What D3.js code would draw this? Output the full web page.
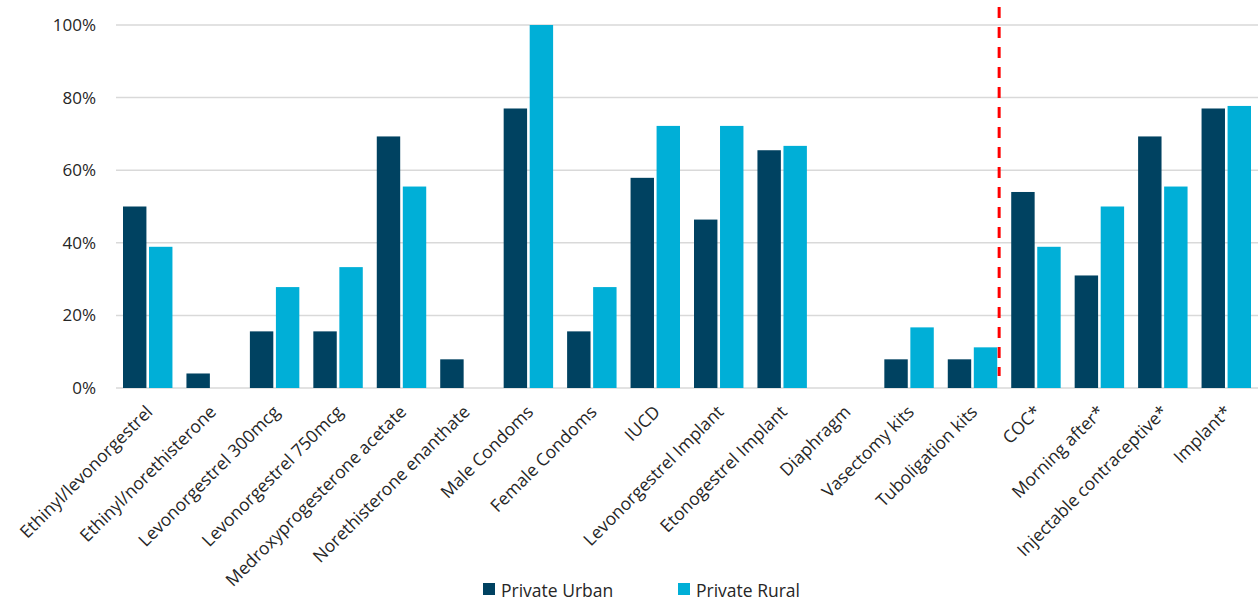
<!DOCTYPE html>
<html>
<head>
<meta charset="utf-8">
<title>Private sector availability</title>
<script src="https://d3js.org/d3.v7.min.js"></script>
<style>
body { margin: 0; background: #fff; }
text { font-family: "Open Sans", sans-serif; fill: #262626; }
</style>
</head>
<body>
<div class="chart"></div>
<script>
// categories and series values (%)
var categories = ["Ethinyl/levonorgestrel", "Ethinyl/norethisterone", "Levonorgestrel 300mcg",
  "Levonorgestrel 750mcg", "Medroxyprogesterone acetate", "Norethisterone enanthate",
  "Male Condoms", "Female Condoms", "IUCD", "Levonorgestrel Implant", "Etonogestrel Implant",
  "Diaphragm", "Vasectomy kits", "Tuboligation kits", "COC*", "Morning after*",
  "Injectable contraceptive*", "Implant*"];
var privateUrban = [50.0, 4.0, 15.6, 15.6, 69.3, 7.9, 77.0, 15.6, 57.9, 46.4, 65.5, 0, 7.9, 7.9, 54.0, 31.0, 69.3, 77.0];
var privateRural = [38.9, 0, 27.8, 33.3, 55.5, 0, 100, 27.8, 72.2, 72.2, 66.7, 0, 16.7, 11.2, 38.9, 50.0, 55.5, 77.7];
var seriesNames = ["Private Urban", "Private Rural"];
var yTicks = [0, 20, 40, 60, 80, 100];
var dividerAfter = 13.92; // in category units, red dashed separator

var colors = ["#004261", "#00afd7"];

var W = 1260, H = 604;
var margin = {left: 116, right: 2, top: 25, bottom: 216};
var width = W - margin.left - margin.right,
    height = H - margin.top - margin.bottom;

var svg = d3.select(".chart").append("svg")
    .attr("width", W)
    .attr("height", H);

var g = svg.append("g").attr("transform", "translate(" + margin.left + "," + margin.top + ")");

var x = d3.scaleBand().domain(categories).range([0, width]).paddingInner(0).paddingOuter(0);
var x1 = d3.scaleBand().domain(seriesNames).range([7, x.bandwidth() - 7]).paddingInner(0.1);
var y = d3.scaleLinear().domain([0, 100]).range([height, 0]);

// gridlines
g.append("g").selectAll("line")
  .data(yTicks)
  .enter().append("line")
    .attr("x1", 0).attr("x2", width)
    .attr("y1", function(d) { return y(d); })
    .attr("y2", function(d) { return y(d); })
    .attr("stroke", "#d9d9d9")
    .attr("stroke-width", 1.5);

// y axis labels
var yAxis = g.append("g")
    .call(d3.axisLeft(y).tickValues(yTicks).tickSize(0).tickPadding(20)
      .tickFormat(function(d) { return d + "%"; }));
yAxis.select(".domain").remove();
yAxis.selectAll("text").style("font-size", "17px").attr("fill", "#262626");

// bars
var series = [privateUrban, privateRural];
series.forEach(function(vals, si) {
  g.append("g").selectAll("rect")
    .data(vals)
    .enter().append("rect")
      .attr("x", function(d, i) { return x(categories[i]) + x1(seriesNames[si]); })
      .attr("width", x1.bandwidth())
      .attr("y", function(d) { return y(d); })
      .attr("height", function(d) { return height - y(d); })
      .attr("fill", colors[si]);
});

// x axis labels
var xAxis = g.append("g")
    .attr("transform", "translate(0," + height + ")")
    .call(d3.axisBottom(x).tickSize(0));
xAxis.select(".domain").remove();
xAxis.selectAll("text")
    .attr("y", 0).attr("dy", 0)
    .attr("text-anchor", "end")
    .attr("transform", "translate(6,25) rotate(-45)")
    .style("font-size", "17.5px")
    .attr("fill", "#262626");

// red dashed divider
g.append("line")
    .attr("x1", dividerAfter * x.step()).attr("x2", dividerAfter * x.step())
    .attr("y1", y(100) - 18).attr("y2", y(3.3))
    .attr("stroke", "#ff0000")
    .attr("stroke-width", 3)
    .attr("stroke-dasharray", "11,9");

// legend
var legendX = [483, 678];
var legend = svg.append("g");
seriesNames.forEach(function(name, i) {
  legend.append("rect")
    .attr("x", legendX[i]).attr("y", 583)
    .attr("width", 12).attr("height", 12)
    .attr("fill", colors[i]);
  legend.append("text")
    .attr("x", legendX[i] + 18).attr("y", 597)
    .style("font-size", "17.5px")
    .text(name);
});
</script>
</body>
</html>
